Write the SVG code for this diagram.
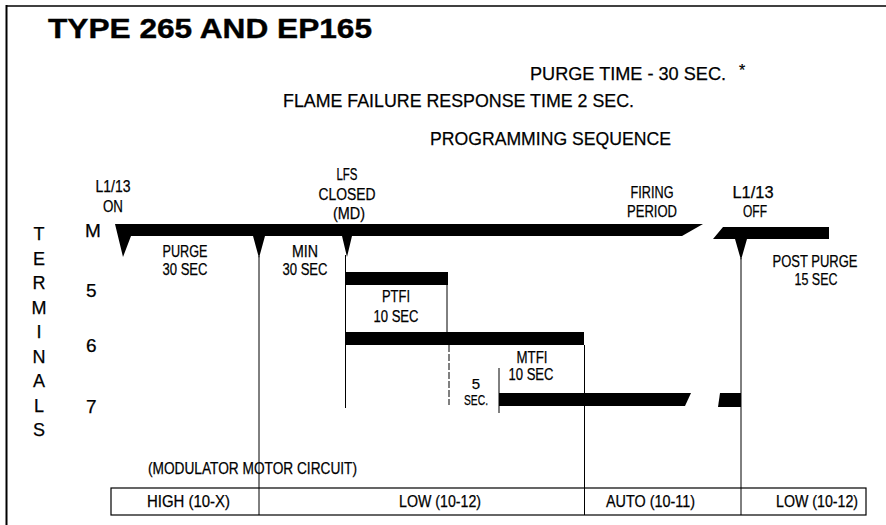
<svg xmlns="http://www.w3.org/2000/svg" width="886" height="525" viewBox="0 0 886 525">
<style>
  text { font-family: "Liberation Sans", Arial, sans-serif; fill: #000; stroke: #000; stroke-width: 0.25; }
  .title { font-size: 27px; font-weight: bold; stroke-width: 0.4; }
  .head { font-size: 19px; }
  .lbl { font-size: 16px; text-anchor: middle; }
  .sm { font-size: 15px; text-anchor: middle; }
  .term { font-size: 19px; }
  .vt { font-size: 18px; text-anchor: middle; }
  .box { font-size: 16px; }
  .bar { fill: #000; }
  .ln { stroke: #000; stroke-width: 1; fill: none; }
</style>
<rect width="886" height="525" fill="#fff"/>
<g id="frame">
  <line x1="6.5" y1="5" x2="6.5" y2="525" stroke="#000" stroke-width="2"/>
  <line x1="6" y1="6" x2="886" y2="6" stroke="#000" stroke-width="1.5"/>
</g>
<g id="titles">
  <text class="title" x="48" y="38" textLength="324" lengthAdjust="spacingAndGlyphs">TYPE 265 AND EP165</text>
  <text class="head" x="530" y="80" textLength="196" lengthAdjust="spacingAndGlyphs">PURGE TIME - 30 SEC.</text>
  <text class="head" x="739" y="76" style="font-size:16px">*</text>
  <text class="head" x="283" y="107" textLength="351" lengthAdjust="spacingAndGlyphs">FLAME FAILURE RESPONSE TIME 2 SEC.</text>
  <text class="head" x="430" y="145" textLength="241" lengthAdjust="spacingAndGlyphs">PROGRAMMING SEQUENCE</text>
</g>
<g id="terminals-label">
  <text class="vt" x="39" y="240">T</text>
  <text class="vt" x="39" y="264.5">E</text>
  <text class="vt" x="39" y="289">R</text>
  <text class="vt" x="39" y="313.5">M</text>
  <text class="vt" x="39" y="338">I</text>
  <text class="vt" x="39" y="362.5">N</text>
  <text class="vt" x="39" y="387">A</text>
  <text class="vt" x="39" y="411.5">L</text>
  <text class="vt" x="39" y="436">S</text>
</g>
<g id="terminal-names">
  <text class="term" x="85" y="237">M</text>
  <text class="term" x="86" y="297">5</text>
  <text class="term" x="86" y="352">6</text>
  <text class="term" x="86" y="413">7</text>
</g>
<g id="connectors">
  <line class="ln" x1="259" y1="256" x2="259" y2="515"/>
  <line class="ln" x1="345.5" y1="255" x2="345.5" y2="408"/>
  <line class="ln" x1="447" y1="285" x2="447" y2="332"/>
  <line class="ln" x1="449" y1="345" x2="449" y2="405" stroke-dasharray="7 2" stroke-width="0.8"/>
  <line class="ln" x1="499" y1="368" x2="499" y2="413"/>
  <line class="ln" x1="584.5" y1="345" x2="584.5" y2="515"/>
  <line class="ln" x1="741" y1="258" x2="741" y2="515"/>
</g>
<g id="bar-M">
  <polygon class="bar" points="115,224 703,224 682,236 352,236 347,257 342,236 265,236 259,258 253,236 131,236 123,257"/>
  <polygon class="bar" points="723,227 829,227 829,239 747,239 741,260 735,239 713,239"/>
</g>
<g id="bar-5">
  <rect class="bar" x="345" y="272" width="103" height="13"/>
</g>
<g id="bar-6">
  <rect class="bar" x="345" y="332" width="239" height="13"/>
</g>
<g id="bar-7">
  <polygon class="bar" points="499,393 691,393 685,406 499,406"/>
  <polygon class="bar" points="720,393 741,393 741,407 718,407"/>
</g>
<g id="labels">
  <text class="lbl" x="113" y="192" textLength="35" lengthAdjust="spacingAndGlyphs">L1/13</text>
  <text class="lbl" x="113" y="212" textLength="20" lengthAdjust="spacingAndGlyphs">ON</text>
  <text class="lbl" x="185" y="257" textLength="45" lengthAdjust="spacingAndGlyphs">PURGE</text>
  <text class="lbl" x="185" y="275" textLength="45" lengthAdjust="spacingAndGlyphs">30 SEC</text>
  <text class="lbl" x="305" y="257" textLength="26" lengthAdjust="spacingAndGlyphs">MIN</text>
  <text class="lbl" x="305" y="275" textLength="45" lengthAdjust="spacingAndGlyphs">30 SEC</text>
  <text class="lbl" x="347" y="180" textLength="21" lengthAdjust="spacingAndGlyphs">LFS</text>
  <text class="lbl" x="347" y="200" textLength="57" lengthAdjust="spacingAndGlyphs">CLOSED</text>
  <text class="lbl" x="349" y="219" textLength="32" lengthAdjust="spacingAndGlyphs">(MD)</text>
  <text class="lbl" x="396" y="302" textLength="28" lengthAdjust="spacingAndGlyphs">PTFI</text>
  <text class="lbl" x="396" y="322" textLength="45" lengthAdjust="spacingAndGlyphs">10 SEC</text>
  <text class="lbl" x="532" y="363" textLength="31" lengthAdjust="spacingAndGlyphs">MTFI</text>
  <text class="lbl" x="531" y="380" textLength="45" lengthAdjust="spacingAndGlyphs">10 SEC</text>
  <text class="sm" x="476" y="389">5</text>
  <text class="sm" x="476" y="405" textLength="24" lengthAdjust="spacingAndGlyphs">SEC.</text>
  <text class="lbl" x="652" y="198" textLength="43" lengthAdjust="spacingAndGlyphs">FIRING</text>
  <text class="lbl" x="652" y="217" textLength="50" lengthAdjust="spacingAndGlyphs">PERIOD</text>
  <text class="lbl" x="753" y="198" textLength="41" lengthAdjust="spacingAndGlyphs">L1/13</text>
  <text class="lbl" x="755" y="217" textLength="24" lengthAdjust="spacingAndGlyphs">OFF</text>
  <text class="lbl" x="815" y="267" textLength="85" lengthAdjust="spacingAndGlyphs">POST PURGE</text>
  <text class="lbl" x="816" y="285" textLength="43" lengthAdjust="spacingAndGlyphs">15 SEC</text>
</g>
<g id="modulator-box">
  <text class="box" x="148" y="474" textLength="209" lengthAdjust="spacingAndGlyphs">(MODULATOR MOTOR CIRCUIT)</text>
  <rect x="111" y="488" width="755" height="27" fill="none" stroke="#000" stroke-width="1.2"/>
  <text class="box" x="147" y="507" textLength="83" lengthAdjust="spacingAndGlyphs">HIGH (10-X)</text>
  <text class="box" x="399" y="507" textLength="82" lengthAdjust="spacingAndGlyphs">LOW (10-12)</text>
  <text class="box" x="606" y="507" textLength="89" lengthAdjust="spacingAndGlyphs">AUTO (10-11)</text>
  <text class="box" x="776" y="507" textLength="82" lengthAdjust="spacingAndGlyphs">LOW (10-12)</text>
</g>
</svg>
